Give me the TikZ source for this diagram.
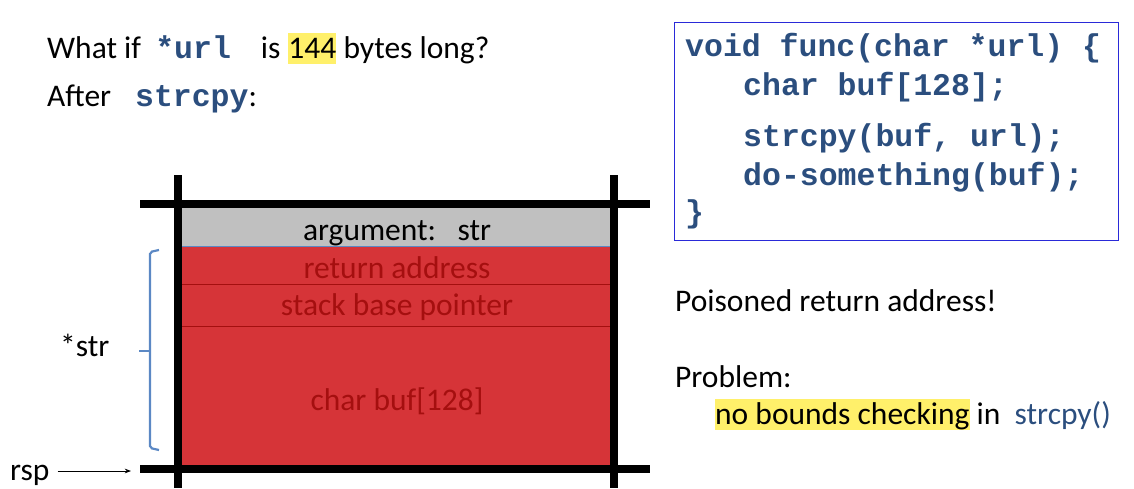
\documentclass[tikz,border=0pt]{standalone}
\usepackage{fontspec}
\setmainfont{Carlito}
\setmonofont{Liberation Mono}
\usetikzlibrary{positioning,arrows.meta}
\definecolor{codeblue}{HTML}{2B4E7E}
\definecolor{boxblue}{HTML}{2A2AD8}
\definecolor{hilite}{HTML}{FFF06A}
\definecolor{stackred}{HTML}{D63438}
\definecolor{darkred}{HTML}{A50F0F}
\definecolor{argray}{HTML}{C0C0C0}
\definecolor{bracketblue}{HTML}{5B88C4}
\newcommand{\cd}[1]{{\ttfamily\bfseries\color{codeblue}#1}}
\newcommand{\hl}[1]{{\setlength{\fboxsep}{0pt}\colorbox{hilite}{\rule[-6pt]{0pt}{31pt}#1}}}

\begin{document}
\begin{tikzpicture}[
      x=1pt,y=-1pt,
      >={Stealth[length=2.2mm]},
      txt/.style={anchor=base west,inner sep=0pt,font=\fontsize{31.5}{38}\selectfont},
      code/.style={anchor=base west,inner sep=0pt,
        font=\fontsize{31.5}{38}\selectfont\ttfamily\bfseries,text=codeblue},
      cell/.style={anchor=base,inner sep=0pt,font=\fontsize{31.5}{38}\selectfont},
      wall/.style={line width=8pt,black},
      sep/.style={draw=darkred,line width=0.8pt}
    ]
    \useasboundingbox (0,0) rectangle (1134,488);
    % question on the left
    \node[txt] (q1) at (47,58)
      {What if\ \ \cd{*url}\hspace{30pt}is\hspace{8pt}\hl{144} bytes long?};
    \node[txt] (q2) at (47,106) {After\hspace{24pt}\cd{strcpy}:};
    % stack frame
    \fill[argray] (178,208) rectangle (614,246);
    \draw[fill=stackred,draw=bracketblue,line width=0.8pt] (180,246) rectangle (614,466);
    \draw[sep] (180,284) -- (614,284);
    \draw[sep] (180,326) -- (614,326);
    \draw[wall] (140,204) -- (650,204);
    \draw[wall] (140,469) -- (650,469);
    \draw[wall] (178,175) -- (178,488);
    \draw[wall] (614,175) -- (614,488);
    \node[cell] (arg) at (397,240) {argument:\ \ \ str};
    \node[cell,text=darkred] (ret) at (397,278) {return address};
    \node[cell,text=darkred] (sbp) at (397,315) {stack base pointer};
    \node[cell,text=darkred] (buf) at (397,410) {char buf[128]};
    % bracket for *str
    \draw[bracketblue,line width=2.2pt,rounded corners=2pt]
      (159,250) -- (150,252) -- (150,448) -- (159,450);
    \draw[bracketblue,line width=2.2pt] (150,351) -- (139,351);
    \node[txt] (str) at (60,356) {*str};
    % stack pointer
    \node[txt] (rsp) at (10,480) {rsp};
    \coordinate (top) at (131,471);
    \draw[->,line width=0.8pt] (rsp.east |- top) ++(8,0) -- (top);
    % source code
    \node[draw=boxblue,line width=1pt,minimum width=444pt,minimum height=218pt,
      anchor=north west] (src) at (674,22) {};
    \node[code] (l1) at (685,56) {void func(char *url) \{};
    \node[code] (l2) at (743,95) {char buf[128];};
    \node[code] (l3) at (743,146) {strcpy(buf, url);};
    \node[code] (l4) at (743,185) {do-something(buf);};
    \node[code] (l5) at (685,222) {\}};
    % remarks
    \node[txt] (poison) at (675,311) {Poisoned return address!};
    \node[txt] (prob) at (675,387) {Problem:};
    \node[txt] (why) at (715,424) {\hl{no bounds checking} in\ \ {\color{codeblue}strcpy()}};
  \end{tikzpicture}
\end{document}
